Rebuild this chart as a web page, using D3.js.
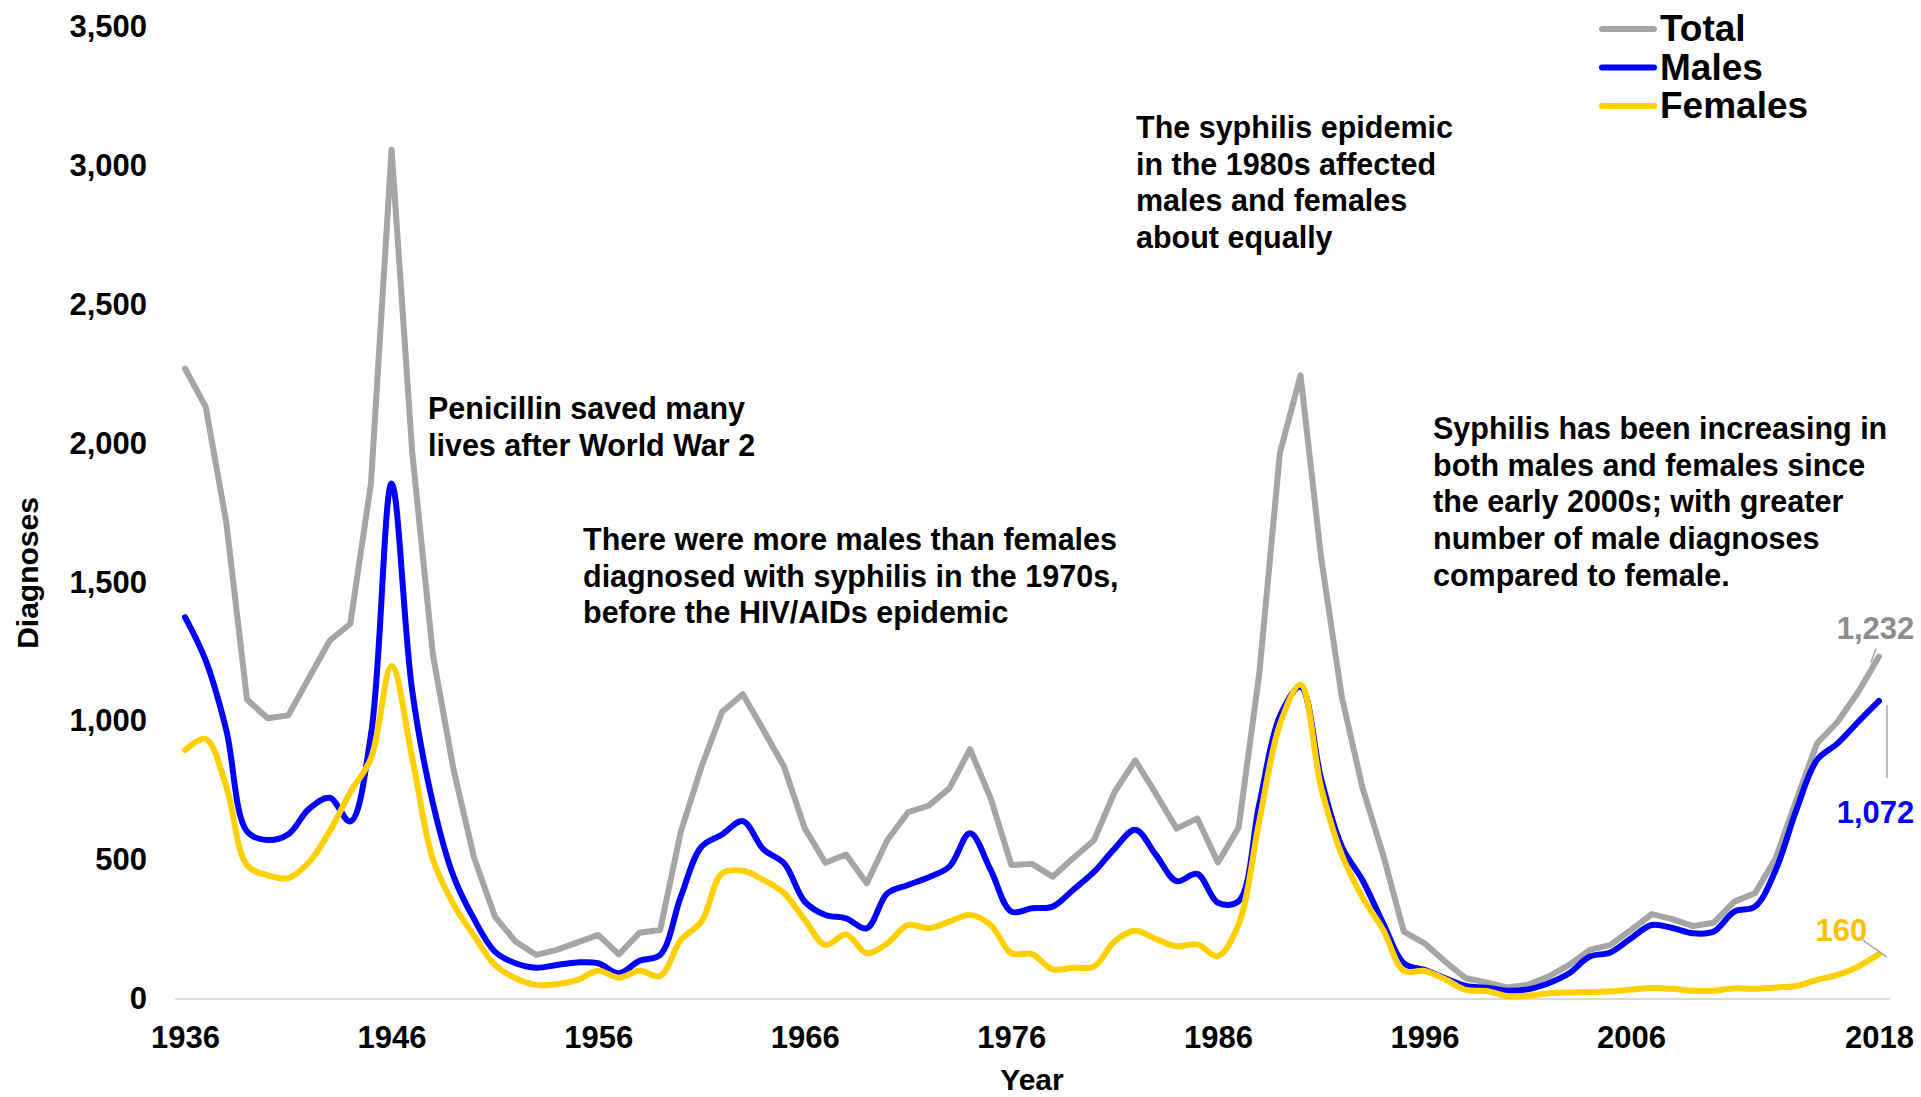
<!DOCTYPE html>
<html lang="en">
<head>
    <meta charset="UTF-8">
    <title>Syphilis diagnoses 1936-2018</title>
    <style>
        body { margin: 0; background: #fff; }
        svg text { font-family: 'Liberation Sans', Arial, sans-serif; font-weight: bold; }
    </style>
</head>
<body>
    <div id="chart"></div>

    <script src="https://cdnjs.cloudflare.com/ajax/libs/d3/7.8.5/d3.min.js"></script>
    <script>
        // years 1936 .. 2018, one value per year
        var years = d3.range(1936, 2019);

        var total = [2269, 2132, 1714, 1077, 1010, 1020, 1155, 1289, 1350, 1855,
                     3058, 1966, 1238, 824, 505, 295, 205, 157, 175, 202,
                     229, 159, 237, 247, 601, 835, 1033, 1096, 967, 835,
                     613, 489, 519, 415, 571, 671, 695, 757, 898, 721,
                     481, 485, 439, 506, 570, 744, 858, 737, 612, 649,
                     490, 615, 1169, 1965, 2245, 1586, 1085, 759, 517, 241,
                     199, 133, 73, 58, 40, 49, 79, 121, 175, 193,
                     247, 304, 286, 261, 273, 349, 379, 505, 715, 919,
                     997, 1105, 1232];

        var males = [1374, 1218, 966, 602, 571, 592, 683, 723, 638, 950,
                     1855, 1107, 703, 440, 285, 169, 127, 111, 121, 130,
                     127, 91, 136, 157, 367, 547, 591, 639, 537, 487,
                     349, 301, 289, 253, 379, 409, 437, 475, 595, 463,
                     313, 325, 331, 392, 456, 540, 608, 517, 423, 449,
                     345, 350, 699, 1017, 1123, 790, 547, 426, 271, 127,
                     103, 73, 45, 39, 28, 33, 55, 91, 151, 166,
                     217, 265, 254, 235, 241, 313, 331, 463, 679, 859,
                     919, 997, 1072];

        var females = [895, 935, 763, 480, 444, 434, 491, 602, 743, 865,
                       1198, 865, 501, 339, 225, 121, 73, 49, 52, 67,
                       100, 75, 100, 81, 211, 277, 451, 460, 427, 379,
                       283, 193, 231, 163, 199, 265, 253, 277, 301, 265,
                       163, 160, 105, 111, 115, 206, 244, 214, 188, 195,
                       153, 267, 638, 987, 1131, 759, 517, 365, 247, 100,
                       99, 69, 31, 27, 9, 10, 19, 22, 23, 26,
                       32, 38, 35, 28, 28, 37, 35, 40, 45, 67,
                       85, 115, 160];

        var xTicks = [1936, 1946, 1956, 1966, 1976, 1986, 1996, 2006, 2018];
        var yTicks = [0, 500, 1000, 1500, 2000, 2500, 3000, 3500];

        var seriesNames = ['Total', 'Males', 'Females'];
        var seriesColors = ['#a5a5a5', '#0000ff', '#ffd000'];

        // text boxes placed on the page (left edge, first baseline)
        var notes = [
            { x: 428, y: 419, lines: ['Penicillin saved many', 'lives after World War 2'] },
            { x: 583, y: 550, lines: ['There were more males than females',
                                      'diagnosed with syphilis in the 1970s,',
                                      'before the HIV/AIDs epidemic'] },
            { x: 1136, y: 138, lines: ['The syphilis epidemic', 'in the 1980s affected',
                                       'males and females', 'about equally'] },
            { x: 1433, y: 439, lines: ['Syphilis has been increasing in',
                                       'both males and females since',
                                       'the early 2000s; with greater',
                                       'number of male diagnoses',
                                       'compared to female.'] }
        ];

        var width = 1921, height = 1097;

        var svg = d3.select('#chart')
                    .append('svg')
                    .attr('width', width)
                    .attr('height', height);

        // category axis: points sit in the middle of each year slot
        var x = d3.scaleLinear()
                  .domain([1935.5, 2018.5])
                  .range([174.7, 1889.3]);

        var y = d3.scaleLinear()
                  .domain([0, 3500])
                  .range([998.5, 27]);

        var fmt = d3.format(',');

        // y axis, labels only
        var yAxis = d3.axisLeft(y)
                      .tickValues(yTicks)
                      .tickFormat(fmt)
                      .tickSize(0)
                      .tickPadding(0);

        svg.append('g')
           .attr('transform', 'translate(147,0)')
           .call(yAxis)
           .call(function (g) { g.select('.domain').remove(); })
           .selectAll('text')
           .attr('font-size', 31)
           .attr('fill', '#000')
           .attr('font-family', null);

        // x axis, light baseline with labels below
        var xAxis = d3.axisBottom(x)
                      .tickValues(xTicks)
                      .tickFormat(d3.format('d'))
                      .tickSize(0)
                      .tickPadding(27);

        var gx = svg.append('g')
                    .attr('transform', 'translate(0,' + y(0) + ')')
                    .call(xAxis);
        gx.select('.domain')
          .attr('stroke', '#d9d9d9')
          .attr('stroke-width', 2);
        gx.selectAll('text')
          .attr('font-size', 31)
          .attr('fill', '#000')
          .attr('font-family', null);

        // axis titles
        svg.append('text')
           .attr('x', (x.range()[0] + x.range()[1]) / 2)
           .attr('y', 1090)
           .attr('text-anchor', 'middle')
           .attr('font-size', 30)
           .text('Year');

        svg.append('text')
           .attr('transform', 'translate(38,' + 573 + ') rotate(-90)')
           .attr('text-anchor', 'middle')
           .attr('font-size', 30)
           .text('Diagnoses');

        // lines - total is straight, males/females smoothed
        var lineStraight = d3.line()
                             .x(function (d, i) { return x(years[i]); })
                             .y(function (d) { return y(d); });

        var lineSmooth = d3.line()
                           .curve(d3.curveCatmullRom.alpha(0.5))
                           .x(function (d, i) { return x(years[i]); })
                           .y(function (d) { return y(d); });

        var allSeries = [total, males, females];

        allSeries.forEach(function (s, k) {
            svg.append('path')
               .datum(s)
               .attr('fill', 'none')
               .attr('stroke', seriesColors[k])
               .attr('stroke-width', 6)
               .attr('stroke-linejoin', 'round')
               .attr('stroke-linecap', 'round')
               .attr('d', k === 0 ? lineStraight : lineSmooth);
        });

        // end labels with little leader lines
        var last = years.length - 1;
        var lx = x(years[last]);

        var endLabels = [
            { v: total[last], color: '#8c8c8c', dx: -3.5, dy: -18,
              lead: [[-3, -8], [-8, 6]] },
            { v: males[last], color: '#0000ff', dx: -3.5, dy: 122,
              lead: [[8, 4], [8, 77]] },
            { v: females[last], color: '#ffc000', dx: -37.5, dy: -13,
              lead: [[-16, -14], [8, 3]] }
        ];

        endLabels.forEach(function (e) {
            var py = y(e.v);
            svg.append('line')
               .attr('x1', lx + e.lead[0][0])
               .attr('y1', py + e.lead[0][1])
               .attr('x2', lx + e.lead[1][0])
               .attr('y2', py + e.lead[1][1])
               .attr('stroke', '#a6a6a6')
               .attr('stroke-width', 1.5);
            svg.append('text')
               .attr('x', lx + e.dx)
               .attr('y', py + e.dy)
               .attr('text-anchor', 'middle')
               .attr('font-size', 31)
               .attr('fill', e.color)
               .text(fmt(e.v));
        });

        // annotations
        notes.forEach(function (n) {
            var t = svg.append('text')
                       .attr('x', n.x)
                       .attr('y', n.y)
                       .attr('font-size', 30.5)
                       .attr('fill', '#000');
            n.lines.forEach(function (l, i) {
                t.append('tspan')
                 .attr('x', n.x)
                 .attr('dy', i === 0 ? 0 : 36.7)
                 .text(l);
            });
        });

        // legend
        var legend = svg.append('g')
                        .attr('transform', 'translate(1600,28)');

        seriesNames.forEach(function (name, i) {
            var row = legend.append('g')
                            .attr('transform', 'translate(0,' + (i * 38.5) + ')');
            row.append('line')
               .attr('x1', 2)
               .attr('x2', 54)
               .attr('y1', 1)
               .attr('y2', 1)
               .attr('stroke', seriesColors[i])
               .attr('stroke-width', 6)
               .attr('stroke-linecap', 'round');
            row.append('text')
               .attr('x', 60)
               .attr('y', 0)
               .attr('dy', '0.36em')
               .attr('font-size', 37)
               .attr('fill', '#000')
               .text(name);
        });
    </script>
</body>
</html>
